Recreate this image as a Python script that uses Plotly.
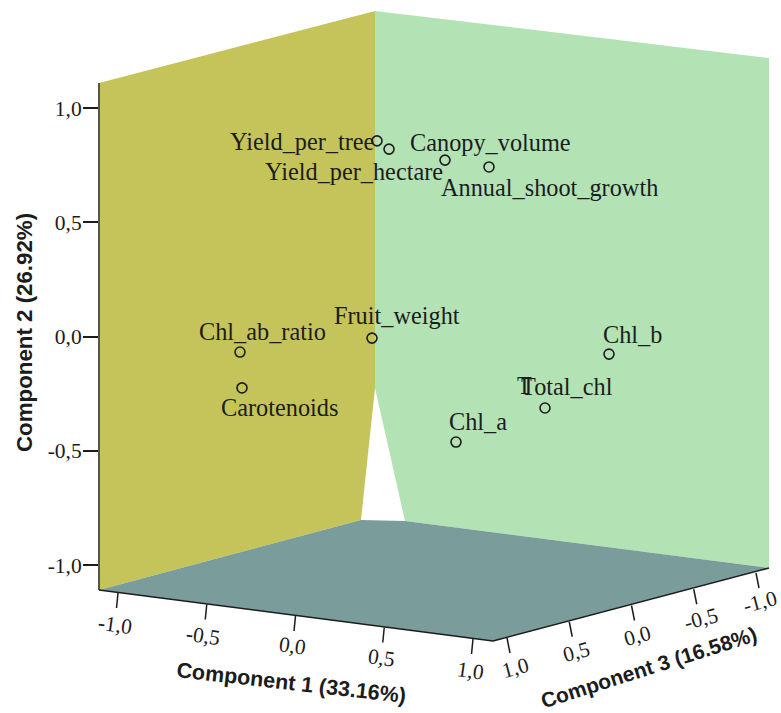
import plotly.graph_objects as go

W, H = 781, 713
Y_PX_ZERO, Y_PX_UNIT = 336.5, 228.5

# ---- data ----
labels = ["Yield_per_tree", "Yield_per_hectare", "Canopy_volume", "Annual_shoot_growth",
          "Fruit_weight", "Chl_ab_ratio", "Carotenoids", "Chl_b", "Total_chl", "Chl_a"]
point_x = [377, 445, 389, 489, 372, 240, 242, 609, 545, 456]
component_2 = [0.856, 0.772, 0.82, 0.742, -0.007, -0.068, -0.225, -0.077, -0.313, -0.462]
label_x = [228, 263, 408, 439, 332, 197, 219, 601, 519, 447]
label_y = [0.855, 0.72, 0.85, 0.65, 0.09, 0.02, -0.31, 0.01, -0.22, -0.37]

axis_ticks = [-1.0, -0.5, 0.0, 0.5, 1.0]
tick_text = ["-1,0", "-0,5", "0,0", "0,5", "1,0"]
title_1 = "Component 1 (33.16%)"
title_2 = "Component 2 (26.92%)"
title_3 = "Component 3 (16.58%)"

WALL_L, WALL_R, FLOOR = "#c5c45a", "#b3e3b5", "#7a9c9a"
INK = "#1c1c1c"
SERIF, SANS = "Liberation Serif", "Liberation Sans"
LABEL_SIZE, TICK_SIZE = 24.3, 21.5


def v(py):
    """page pixel row -> Component 2 units"""
    return (Y_PX_ZERO - py) / Y_PX_UNIT


def poly(pts, color):
    path = "M " + " L ".join(f"{x},{v(y):.4f}" for x, y in pts) + " Z"
    return dict(type="path", path=path, fillcolor=color, line=dict(width=0),
                xref="x", yref="y", layer="below")


def seg(a, b, color=INK, width=1.5):
    return dict(type="line", x0=a[0], y0=v(a[1]), x1=b[0], y1=v(b[1]), xref="x", yref="y",
                line=dict(color=color, width=width), layer="above")


def note(x, py, text, size, angle=0, font=SERIF, bold=False, anchor="center"):
    return dict(x=x, y=v(py), xref="x", yref="y", text=f"<b>{text}</b>" if bold else text,
                showarrow=False, textangle=angle, xanchor=anchor, yanchor="middle",
                font=dict(family=font, size=size, color=INK))


def lerp(a, b, t):
    return (a[0] + (b[0] - a[0]) * t, a[1] + (b[1] - a[1]) * t)


shapes = [
    poly([(99, 83), (375, 11), (375, 388), (361, 520), (99, 590)], WALL_L),
    poly([(375, 11), (769, 58), (769, 568), (405, 521), (375, 388)], WALL_R),
    poly([(99, 590), (361, 520), (405, 521), (769, 568), (493, 641)], FLOOR),
    seg((99, 83), (99, 590), "#555555", 2),
    seg((99, 590), (493, 641)),
    seg((493, 641), (769, 568)),
]

annotations = []
# Component 1 floor axis, scale runs -1 .. 1 from left to right
for t, s, lab in zip(axis_ticks, tick_text, [(115, 625), (203, 636), (292, 646), (381, 658), (470, 671)]):
    top = lerp((118, 593), (473, 639), (t + 1) / 2)
    shapes.append(seg(top, (top[0] - 1.5, top[1] + 15)))
    annotations.append(note(lab[0], lab[1], s, TICK_SIZE, angle=8))
# Component 3 floor axis, scale runs 1 .. -1 from left to right
for t, s, lab in zip(axis_ticks, tick_text, [(760, 602), (701, 619), (637, 636), (576, 652), (515, 668)]):
    top = lerp((507, 638), (756, 573), (1 - t) / 2)
    shapes.append(seg(top, (top[0] + 3, top[1] + 15)))
    annotations.append(note(lab[0], lab[1], s, TICK_SIZE, angle=-15))

annotations += [
    note(291, 683, title_1, 21.5, angle=6.5, font=SANS, bold=True),
    note(648, 667, title_3, 21, angle=-17.6, font=SANS, bold=True),
    note(24, 333, title_2, 22.3, angle=-90, font=SANS, bold=True),
]
for x, y, t in zip(label_x, label_y, labels):
    annotations.append(dict(x=x, y=y, xref="x", yref="y", text=t, showarrow=False, xanchor="left",
                            yanchor="middle", font=dict(family=SERIF, size=LABEL_SIZE, color=INK)))
# The source has a stray doubled T on the Total_chl label
annotations.append(dict(x=515, y=-0.215, xref="x", yref="y", text="T", showarrow=False, xanchor="left",
                        yanchor="middle", font=dict(family=SERIF, size=LABEL_SIZE, color=INK)))

fig = go.Figure(go.Scatter(
    x=point_x, y=component_2, mode="markers", text=labels, hoverinfo="text",
    marker=dict(symbol="circle-open", size=10, color=INK, line=dict(width=1.6, color=INK)),
))
fig.update_layout(
    width=W, height=H, margin=dict(l=0, r=0, t=0, b=0),
    paper_bgcolor="white", plot_bgcolor="white", showlegend=False,
    shapes=shapes, annotations=annotations,
    xaxis=dict(range=[0, W], visible=False, fixedrange=True),
    yaxis=dict(range=[v(H), v(0)], anchor="free", position=99 / W, side="left",
               tickmode="array", tickvals=axis_ticks, ticktext=tick_text,
               ticks="outside", ticklen=16, tickwidth=1.6, tickcolor=INK,
               ticklabelstandoff=-3,
               tickfont=dict(family=SERIF, size=TICK_SIZE, color=INK),
               showgrid=False, zeroline=False, showline=False, fixedrange=True),
)
fig.write_html("out.html", config=dict(displayModeBar=False),
               post_script="document.body.style.margin='0';document.body.style.overflow='hidden';")
